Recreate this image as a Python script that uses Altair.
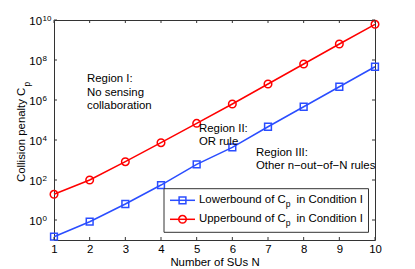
import altair as alt
import pandas as pd

# ---- data ----
N_VALUES = [1, 2, 3, 4, 5, 6, 7, 8, 9, 10]
LOWER = [0.146, 0.82, 6.3, 56, 610, 4300, 4.6e4, 4.6e5, 4.6e6, 4.6e7]
UPPER = [19.3, 100, 822, 7330, 6.8e4, 6.3e5, 6.3e6, 6.3e7, 6.3e8, 6.1e9]
SERIES = ["Lowerbound", "Upperbound"]
LEGEND_TEXT = [("Lowerbound of C", "p", "in Condition I"),
               ("Upperbound of C", "p", "in Condition I")]
Y_TICK_EXPONENTS = [0, 2, 4, 6, 8, 10]
REGION_TEXT = [["Region I:", "No sensing", "collaboration"],
               ["Region II:", "OR rule"],
               ["Region III:", "Other n\u2212out\u2212of\u2212N rules"]]
REGION_N = [1.925, 5.065, 6.663]
REGION_VALUE = [7.7e6, 2.66e4, 1.6e3]

# ---- styling ----
W, H = 321, 220
FONT = "Liberation Sans"
FS = 11.4
COLORS = ["#2a4dff", "#ff0000"]
SHAPES = ["square", "circle"]
SIZES = [46, 57]
FRAME = "#333333"

df = pd.DataFrame({
    "N": N_VALUES * 2,
    "value": LOWER + UPPER,
    "series": [SERIES[0]] * len(N_VALUES) + [SERIES[1]] * len(N_VALUES),
})
ticks_y = pd.DataFrame({"exp": [str(e) for e in Y_TICK_EXPONENTS],
                        "value": [10.0 ** e for e in Y_TICK_EXPONENTS]})
ticks_x = pd.DataFrame({"N": N_VALUES})
regions = pd.DataFrame({"N": REGION_N, "value": REGION_VALUE, "text": REGION_TEXT})
one = pd.DataFrame({"k": [0]})

xscale = alt.Scale(domain=[1, 10], nice=False, zero=False)
yscale = alt.Scale(type="log", domain=[0.1, 1e10], nice=False)
xaxis = alt.Axis(values=N_VALUES, format="d", title="Number of SUs N",
                 grid=False, ticks=False, tickSize=0, domain=False,
                 labelFlush=False, labelOverlap=False,
                 labelFont=FONT, labelFontSize=FS, labelColor="black",
                 labelPadding=3, titleFont=FONT, titleFontSize=FS,
                 titleFontWeight="normal", titleColor="black", titlePadding=2)

X = alt.X("N:Q", scale=xscale, axis=xaxis)
Y = alt.Y("value:Q", scale=yscale, axis=None)
color = alt.Color("series:N", scale=alt.Scale(domain=SERIES, range=COLORS), legend=None)

lines = alt.Chart(df).mark_line(strokeWidth=1.5).encode(x=X, y=Y, color=color)
points = alt.Chart(df).mark_point(filled=False, strokeWidth=1.5, opacity=1).encode(
    x=X, y=Y, color=color,
    shape=alt.Shape("series:N", scale=alt.Scale(domain=SERIES, range=SHAPES), legend=None),
    size=alt.Size("series:N", scale=alt.Scale(domain=SERIES, range=SIZES), legend=None),
)

# inward ticks on all four sides
tick_style = dict(color=FRAME, strokeWidth=1)
t_left = alt.Chart(ticks_y).mark_rule(**tick_style).encode(
    y=alt.Y("value:Q", scale=yscale, axis=None), x=alt.value(0), x2=alt.value(3))
t_right = alt.Chart(ticks_y).mark_rule(**tick_style).encode(
    y=alt.Y("value:Q", scale=yscale, axis=None), x=alt.value(W - 3), x2=alt.value(W))
t_top = alt.Chart(ticks_x).mark_rule(**tick_style).encode(
    x=X, y=alt.value(0), y2=alt.value(3))
t_bot = alt.Chart(ticks_x).mark_rule(**tick_style).encode(
    x=X, y=alt.value(H - 3), y2=alt.value(H))

# y tick labels 10^k
ylab_base = alt.Chart(ticks_y).mark_text(
    font=FONT, fontSize=FS, align="right", baseline="alphabetic", dy=5, color="black"
).encode(y=alt.Y("value:Q", scale=yscale, axis=None), x=alt.value(-12), text=alt.value("10"))
ylab_exp = alt.Chart(ticks_y).mark_text(
    font=FONT, fontSize=8, align="left", baseline="alphabetic", dy=1, color="black"
).encode(y=alt.Y("value:Q", scale=yscale, axis=None), x=alt.value(-11.5), text="exp:N")

# y axis title with subscript
ytitle = alt.Chart(one).mark_text(
    font=FONT, fontSize=FS, angle=270, align="left", baseline="alphabetic", color="black",
    text="Collision penalty C"
).encode(x=alt.value(-29), y=alt.value(162))
ytitle_sub = alt.Chart(one).mark_text(
    font=FONT, fontSize=8.5, angle=270, align="left", baseline="alphabetic", color="black",
    text="p"
).encode(x=alt.value(-24), y=alt.value(66.5))

# region annotations
region_txt = alt.Chart(regions).mark_text(
    font=FONT, fontSize=FS, align="left", baseline="alphabetic", lineHeight=13.5, color="black"
).encode(x=alt.X("N:Q", scale=xscale, axis=xaxis), y=Y, text="text")

# legend (drawn)
legend_layers = [
    alt.Chart(one).mark_rect(fill="white", stroke=FRAME, strokeWidth=1).encode(
        x=alt.value(110), x2=alt.value(314.5), y=alt.value(168.7), y2=alt.value(212.3))
]
entry_y = [180.3, 199.3]
for i in range(2):
    yy = entry_y[i]
    main, sub, rest = LEGEND_TEXT[i]
    legend_layers += [
        alt.Chart(one).mark_rule(color=COLORS[i], strokeWidth=1.5).encode(
            x=alt.value(116), x2=alt.value(141), y=alt.value(yy)),
        alt.Chart(one).mark_point(filled=False, strokeWidth=1.5, opacity=1, color=COLORS[i],
                                  shape=SHAPES[i], size=SIZES[i]).encode(
            x=alt.value(128.5), y=alt.value(yy)),
        alt.Chart(one).mark_text(font=FONT, fontSize=FS, align="left", baseline="alphabetic",
                                 color="black", text=main).encode(
            x=alt.value(145), y=alt.value(yy + 3)),
        alt.Chart(one).mark_text(font=FONT, fontSize=8.5, align="left", baseline="alphabetic",
                                 color="black", text=sub).encode(
            x=alt.value(231.8), y=alt.value(yy + 7)),
        alt.Chart(one).mark_text(font=FONT, fontSize=FS, align="left", baseline="alphabetic",
                                 color="black", text=rest).encode(
            x=alt.value(242.5), y=alt.value(yy + 3)),
    ]

chart = alt.layer(
    lines, points, t_left, t_right, t_top, t_bot, ylab_base, ylab_exp,
    ytitle, ytitle_sub, region_txt, *legend_layers
).properties(
    width=W, height=H,
    autosize=alt.AutoSizeParams(type="none"),
    padding={"left": 46, "top": 12, "right": 30, "bottom": 28},
).configure(font=FONT).configure_view(stroke=FRAME, strokeWidth=1)

chart.save("out.html", embed_options={"renderer": "svg", "actions": False})
